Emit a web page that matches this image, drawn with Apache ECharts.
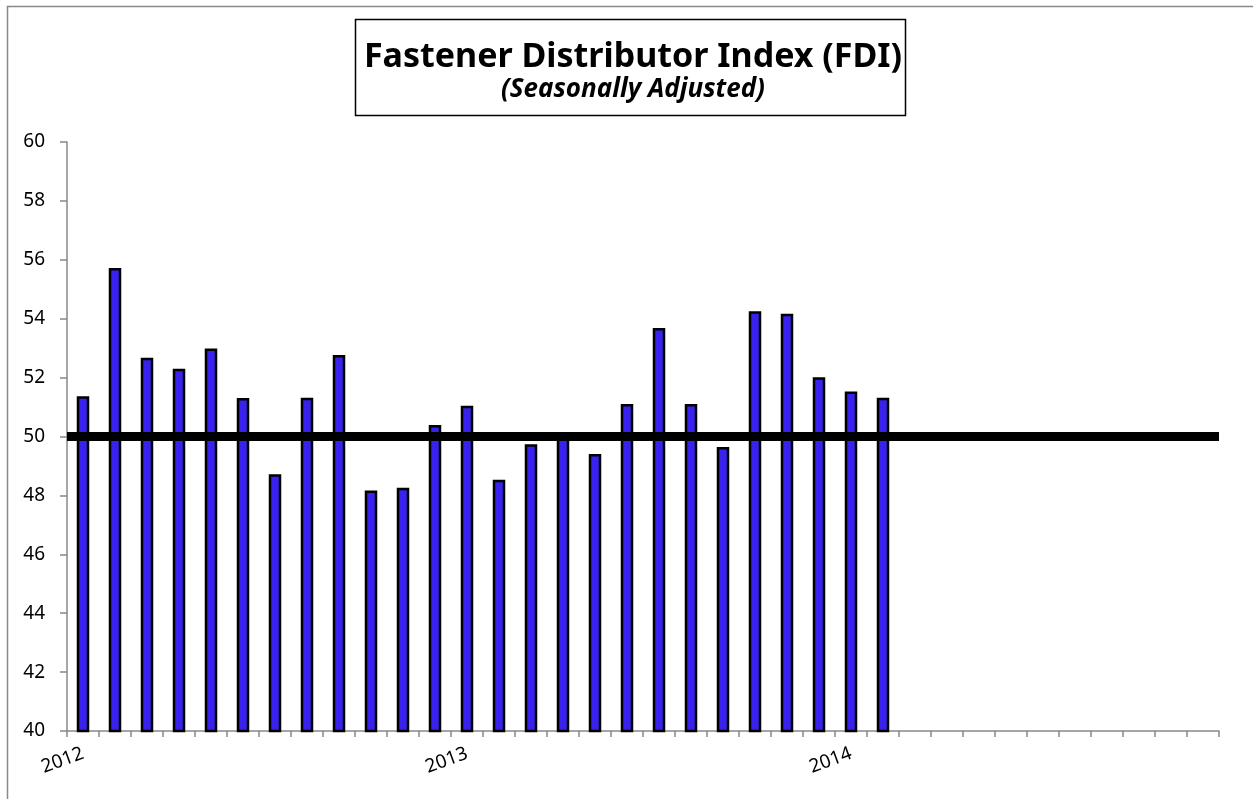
<!DOCTYPE html>
<html>
<head>
<meta charset="utf-8">
<script src="https://cdn.jsdelivr.net/npm/echarts@6/dist/echarts.min.js"></script>
<style>html,body{margin:0;padding:0;background:#fff}#c{width:1253px;height:799px}</style>
</head>
<body>
<div id="c"></div>
<script>
// ---- data ----
const years = ['2012', '2013', '2014'];
const months = [];
years.forEach(y => { for (let m = 1; m <= 12; m++) months.push(y + '-' + (m < 10 ? '0' + m : m)); });
const fdiValues = [
  51.37, 55.72, 52.67, 52.30, 52.99, 51.31, 48.72, 51.32, 52.77, 48.17, 48.26, 50.39,
  51.04, 48.53, 49.74, 50.00, 49.41, 51.10, 53.68, 51.10, 49.64, 54.25, 54.17, 52.01,
  51.53, 51.32
];
const neutralLevel = 50;
const yMin = 40, yMax = 60, yStep = 2;
const titleText = 'Fastener Distributor Index (FDI)';
const subtitleText = '(Seasonally Adjusted)';

const chart = echarts.init(document.getElementById('c'), null, { renderer: 'canvas' });
const FONT = '"Noto Sans", "Open Sans", sans-serif';
chart.setOption({
  animation: false,
  backgroundColor: '#fff',
  title: {
    text: titleText,
    subtext: subtitleText,
    left: 628,
    textAlign: 'center',
    top: 35,
    itemGap: 3,
    textStyle: { fontFamily: FONT, fontSize: 34, fontWeight: 'bold', color: '#000' },
    subtextStyle: { fontFamily: FONT, fontSize: 26, fontWeight: 'bold', fontStyle: 'italic', color: '#000' }
  },
  graphic: [
    { type: 'rect', shape: { x: 7.5, y: 6.5, width: 1300, height: 900 }, style: { fill: 'none', stroke: '#888', lineWidth: 1.5 }, silent: true },
    { type: 'rect', shape: { x: 355.5, y: 19.5, width: 550, height: 96 }, style: { fill: 'none', stroke: '#000', lineWidth: 1.5 }, silent: true }
  ],
  grid: { left: 67, right: 34, top: 142, bottom: 68, containLabel: false },
  xAxis: {
    type: 'category',
    data: months,
    boundaryGap: true,
    axisLine: { lineStyle: { color: '#888', width: 1.5 } },
    axisTick: { show: true, length: 6, interval: 0, lineStyle: { color: '#888', width: 1.5 } },
    axisLabel: {
      interval: 0,
      rotate: 20,
      margin: 22,
      fontFamily: FONT,
      fontSize: 19,
      color: '#000',
      formatter: function (v) { return v.slice(5) === '01' ? v.slice(0, 4) : ''; }
    },
    splitLine: { show: false }
  },
  yAxis: {
    type: 'value',
    min: yMin, max: yMax, interval: yStep,
    axisLine: { show: true, lineStyle: { color: '#888', width: 1.5 } },
    axisTick: { show: true, length: 7, lineStyle: { color: '#888', width: 1.5 } },
    axisLabel: { fontFamily: FONT, fontSize: 19, color: '#000', margin: 22 },
    splitLine: { show: false }
  },
  series: [{
    type: 'bar',
    data: fdiValues,
    barWidth: 12.5,
    itemStyle: { color: '#3A22EE', borderColor: '#000', borderWidth: 2.5 },
    markLine: {
      silent: true,
      symbol: 'none',
      label: { show: false },
      lineStyle: { color: '#000', width: 9, type: 'solid' },
      data: [{ yAxis: neutralLevel }]
    },
    z: 2
  }]
});
</script>
</body>
</html>
